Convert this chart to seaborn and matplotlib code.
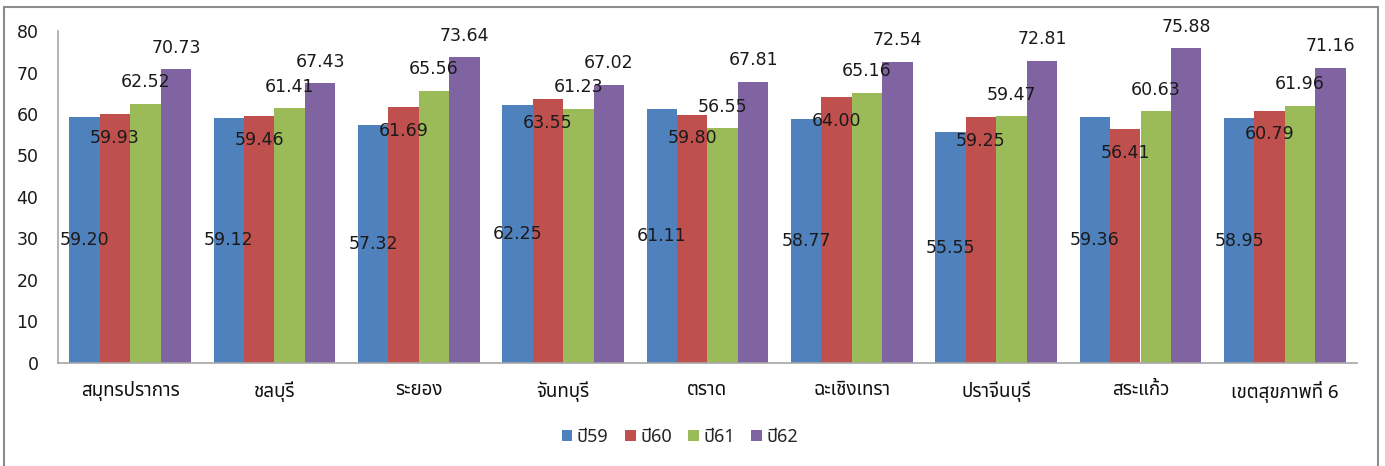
import matplotlib
matplotlib.use("Agg")
import matplotlib.pyplot as plt
from matplotlib import font_manager
from matplotlib.ft2font import FT2Font
from matplotlib.patches import Rectangle
import seaborn as sns
import pandas as pd

# ---- data -------------------------------------------------------------
areas = ["สมุทรปราการ", "ชลบุรี", "ระยอง", "จันทบุรี", "ตราด",
         "ฉะเชิงเทรา", "ปราจีนบุรี", "สระแก้ว", "เขตสุขภาพที่ 6"]
years = ["ปี59", "ปี60", "ปี61", "ปี62"]
y59 = [59.20, 59.12, 57.32, 62.25, 61.11, 58.77, 55.55, 59.36, 58.95]
y60 = [59.93, 59.46, 61.69, 63.55, 59.80, 64.00, 59.25, 56.41, 60.79]
y61 = [62.52, 61.41, 65.56, 61.23, 56.55, 65.16, 59.47, 60.63, 61.96]
y62 = [70.73, 67.43, 73.64, 67.02, 67.81, 72.54, 72.81, 75.88, 71.16]
yticks = [0, 10, 20, 30, 40, 50, 60, 70, 80]

colors = ["#4F81BD", "#C0504D", "#9BBB59", "#8064A2"]

df = pd.DataFrame({
    "area": areas * 4,
    "year": [y for y in years for _ in areas],
    "value": y59 + y60 + y61 + y62,
})


def thai_family():
    """Return an installed family that can draw Thai script."""
    found = []
    for f in font_manager.fontManager.ttflist:
        try:
            cmap = FT2Font(f.fname).get_charmap()
        except Exception:
            continue
        if 0x0E2A in cmap and 0x0E1B in cmap and 0x0E38 in cmap:
            found.append(f.name)
    if not found:
        return None
    for pref in ("Tahoma", "Noto Sans Thai", "Loma", "Garuda", "Sarabun"):
        if pref in found:
            return pref
    sans = [n for n in found if "Sans" in n]
    return (sans or found)[0]


sns.set_theme(style="white")
thai = thai_family()
families = ([thai] if thai else []) + ["DejaVu Sans"]
plt.rcParams["font.family"] = families

fig = plt.figure(figsize=(13.85, 4.66), dpi=100)
fig.patch.set_facecolor("white")
# outer chart frame
fig.add_artist(Rectangle((4 / 1385, -0.05), 1374 / 1385, 1.05 - 7 / 466,
                         transform=fig.transFigure, fill=False,
                         edgecolor="#8c8c8c", linewidth=1.5))

ax = fig.add_axes([58 / 1385, 1 - 363 / 466, 1299 / 1385, 332 / 466])
sns.barplot(data=df, x="area", y="value", hue="year", palette=colors,
            saturation=1, width=0.845, errorbar=None, ax=ax,
            linewidth=0, legend=True)

ax.set_ylim(0, 80)
ax.set_yticks(yticks)
ax.set_yticklabels([str(t) for t in yticks], fontsize=12.5,
                   family=["DejaVu Sans"], color="#1a1a1a")
ax.set_xlabel("")
ax.set_ylabel("")
ax.tick_params(axis="y", length=0, pad=14)
ax.tick_params(axis="x", length=0, pad=13, labelsize=13.5, colors="#111111")
for s in ("top", "right"):
    ax.spines[s].set_visible(False)
for s in ("left", "bottom"):
    ax.spines[s].set_color("#a6a6a6")
    ax.spines[s].set_linewidth(1.2)

# value labels: ปี59 centred in the bar, ปี60 inside the top,
# ปี61 and ปี62 above the bar
label_kw = dict(textcoords="offset points", ha="center", va="center",
                fontsize=12.5, family=["DejaVu Sans"], color="#1a1a1a")
for i, cont in enumerate(ax.containers):
    for rect in cont:
        h = rect.get_height()
        x = rect.get_x() + rect.get_width() / 2
        if i == 0:
            ax.annotate(f"{h:.2f}", (x, h / 2), xytext=(0, 0), **label_kw)
        elif i == 1:
            ax.annotate(f"{h:.2f}", (x, h), xytext=(0, -17), **label_kw)
        else:
            ax.annotate(f"{h:.2f}", (x, h), xytext=(0, 15.5), **label_kw)

leg = ax.get_legend()
leg.remove()
handles = [Rectangle((0, 0), 1, 1, facecolor=c, edgecolor="none") for c in colors]
fig.legend(handles, years, loc="center", bbox_to_anchor=(0.491, 1 - 437 / 466),
           ncol=4, frameon=False, fontsize=13, handlelength=0.6,
           handleheight=0.6, handletextpad=0.25, columnspacing=0.9)

fig.savefig("out.png", dpi=100, facecolor="white")
